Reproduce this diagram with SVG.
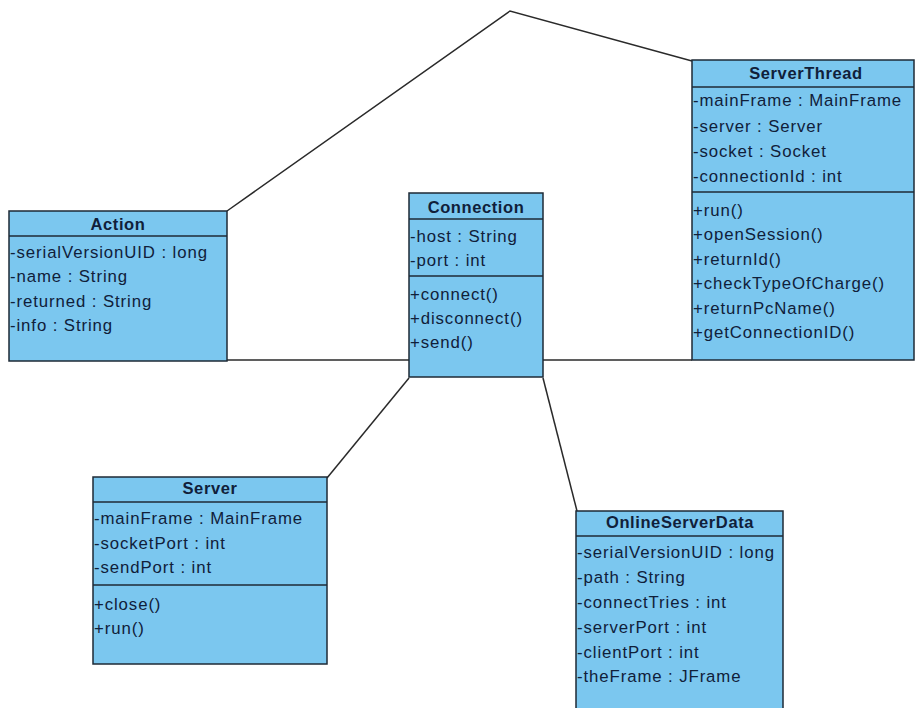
<svg xmlns="http://www.w3.org/2000/svg" width="916" height="708" viewBox="0 0 916 708">
<style>
.box{fill:#7bc7ef;stroke:#1e2a36;stroke-width:1.5}
.sep{stroke:#1e2a36;stroke-width:1.5}
.t{font-family:"Liberation Sans",Arial,sans-serif;font-size:16.8px;fill:#10203a;letter-spacing:0.9px}
.h{font-family:"Liberation Sans",Arial,sans-serif;font-size:16.5px;font-weight:bold;fill:#10203a;text-anchor:middle;letter-spacing:0.6px}
.c{fill:none;stroke:#2a2a2a;stroke-width:1.5}
</style>
<rect width="916" height="708" fill="#ffffff"/>
<g id="connectors">
<polyline class="c" points="227,211 510,11 692,61"/>
<line class="c" x1="227" y1="360" x2="409" y2="360"/>
<line class="c" x1="543" y1="360" x2="692" y2="360"/>
<line class="c" x1="409" y1="378" x2="327" y2="478"/>
<line class="c" x1="543" y1="378" x2="577" y2="511"/>
</g>
<g id="Action">
<rect class="box" x="9" y="211" width="218" height="150"/>
<line class="sep" x1="9" y1="236" x2="227" y2="236"/>
<text class="h" x="118" y="230">Action</text>
<text class="t" x="10" y="258">-serialVersionUID : long</text>
<text class="t" x="10" y="282">-name : String</text>
<text class="t" x="10" y="307">-returned : String</text>
<text class="t" x="10" y="331">-info : String</text>
</g>
<g id="Connection">
<rect class="box" x="409" y="193" width="134" height="184"/>
<line class="sep" x1="409" y1="219" x2="543" y2="219"/>
<line class="sep" x1="409" y1="276" x2="543" y2="276"/>
<text class="h" x="476" y="213">Connection</text>
<text class="t" x="410" y="242">-host : String</text>
<text class="t" x="410" y="266">-port : int</text>
<text class="t" x="410" y="300">+connect()</text>
<text class="t" x="410" y="324">+disconnect()</text>
<text class="t" x="410" y="348">+send()</text>
</g>
<g id="ServerThread">
<rect class="box" x="692" y="60" width="222" height="300"/>
<line class="sep" x1="692" y1="87" x2="914" y2="87"/>
<line class="sep" x1="692" y1="192" x2="914" y2="192"/>
<text class="h" x="806" y="79">ServerThread</text>
<text class="t" x="693" y="106">-mainFrame : MainFrame</text>
<text class="t" x="693" y="132">-server : Server</text>
<text class="t" x="693" y="157">-socket : Socket</text>
<text class="t" x="693" y="182">-connectionId : int</text>
<text class="t" x="693" y="216">+run()</text>
<text class="t" x="693" y="240">+openSession()</text>
<text class="t" x="693" y="265">+returnId()</text>
<text class="t" x="693" y="289">+checkTypeOfCharge()</text>
<text class="t" x="693" y="314">+returnPcName()</text>
<text class="t" x="693" y="338">+getConnectionID()</text>
</g>
<g id="Server">
<rect class="box" x="93" y="477" width="234" height="187"/>
<line class="sep" x1="93" y1="502" x2="327" y2="502"/>
<line class="sep" x1="93" y1="585" x2="327" y2="585"/>
<text class="h" x="210" y="494">Server</text>
<text class="t" x="94" y="524">-mainFrame : MainFrame</text>
<text class="t" x="94" y="549">-socketPort : int</text>
<text class="t" x="94" y="573">-sendPort : int</text>
<text class="t" x="94" y="610">+close()</text>
<text class="t" x="94" y="634">+run()</text>
</g>
<g id="OnlineServerData">
<rect class="box" x="576" y="511" width="207" height="205"/>
<line class="sep" x1="576" y1="536" x2="783" y2="536"/>
<text class="h" x="680" y="528">OnlineServerData</text>
<text class="t" x="577" y="558">-serialVersionUID : long</text>
<text class="t" x="577" y="583">-path : String</text>
<text class="t" x="577" y="608">-connectTries : int</text>
<text class="t" x="577" y="633">-serverPort : int</text>
<text class="t" x="577" y="658">-clientPort : int</text>
<text class="t" x="577" y="682">-theFrame : JFrame</text>
</g>
</svg>
